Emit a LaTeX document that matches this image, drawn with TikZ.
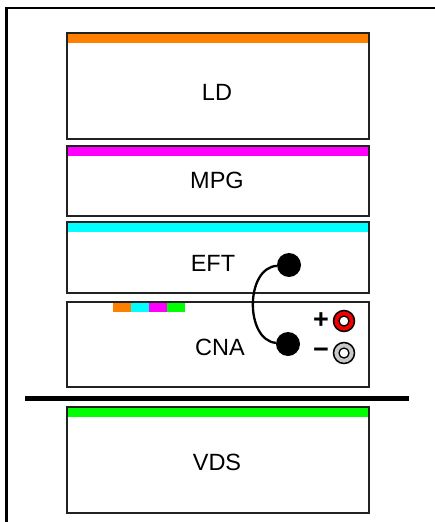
\documentclass[tikz,border=0pt]{standalone}
\usepackage{fontspec}
\setmainfont{Liberation Sans}
\definecolor{bandorange}{RGB}{255,128,0}
\definecolor{bandmagenta}{RGB}{255,0,255}
\definecolor{bandcyan}{RGB}{0,255,255}
\definecolor{bandgreen}{RGB}{0,255,0}
\definecolor{boxline}{RGB}{34,34,34}
\definecolor{termgray}{RGB}{200,200,200}
\definecolor{termred}{RGB}{240,0,0}
\tikzset{
  unitbox/.style={draw=boxline, line width=1.8pt, fill=white, anchor=north west, minimum width=302pt, inner sep=0pt, outer sep=0pt},
  lbl/.style={font=\fontsize{23.5}{27}\selectfont, inner sep=0pt},
  dot/.style={circle, fill=black, minimum size=24pt, inner sep=0pt},
  ring/.style={circle, draw=black, line width=1.5pt, minimum size=21pt, inner sep=0pt},
  hole/.style={circle, draw=black, fill=white, line width=1.3pt, minimum size=10pt, inner sep=0pt},
  sign/.style={font=\fontsize{27}{30}\selectfont\bfseries, inner sep=0pt},
}
\begin{document}
\begin{tikzpicture}[x=1pt,y=-1pt]
\useasboundingbox (0,0) rectangle (435,522);
% frame
\draw[line width=2.5pt] (6.5,522) -- (6.5,8) -- (435,8);
% boxes
\node[unitbox, minimum height=106pt] (ld) at (67,33) {};
\fill[bandorange] (67,33) rectangle (369,43);
\node[unitbox, minimum height=70pt] (mpg) at (67,146) {};
\fill[bandmagenta] (67,146) rectangle (369,156);
\node[unitbox, minimum height=71pt] (eft) at (67,222) {};
\fill[bandcyan] (67,222) rectangle (369,232);
\node[unitbox, minimum height=85pt] (cna) at (67,302) {};
\node[unitbox, minimum height=106pt] (vds) at (67,407) {};
\fill[bandgreen] (67,407) rectangle (369,417);
% redraw outlines over bands
\foreach \n in {ld,mpg,eft,cna,vds} \draw[boxline, line width=1.8pt] (\n.north west) rectangle (\n.south east);
% colour squares on CNA
\fill[bandorange] (113,303) rectangle (131,312);
\fill[bandcyan] (131,303) rectangle (149,312);
\fill[bandmagenta] (149,303) rectangle (167,312);
\fill[bandgreen] (167,303) rectangle (185,312);
% labels
\node[lbl] (tld) at (217,92) {LD};
\node[lbl] (tmpg) at (217,180) {MPG};
\node[lbl] (teft) at (213,263) {EFT};
\node[lbl] (tcna) at (220,347) {CNA};
\node[lbl] (tvds) at (217,462) {VDS};
% separator
\coordinate (sepL) at (25,398.5);
\coordinate (sepR) at (409,398.5);
\draw[line width=4.5pt] (sepL) -- (sepR);
% cable
\node[dot] (de) at (289,265) {};
\node[dot] (dc) at (288,344) {};
\draw[line width=2.3pt] (de) .. controls (245,268) and (245,340) .. (dc);
% terminals
\node[ring, fill=termred] (tp) at (344,321) {};
\node[hole] at (tp) {};
\node[ring, fill=termgray] (tm) at (344,353) {};
\node[hole] at (tm) {};
\node[sign] (plus) at (321,321) {+};
\node[sign] (minus) at (321,353) {−};
\end{tikzpicture}
\end{document}
